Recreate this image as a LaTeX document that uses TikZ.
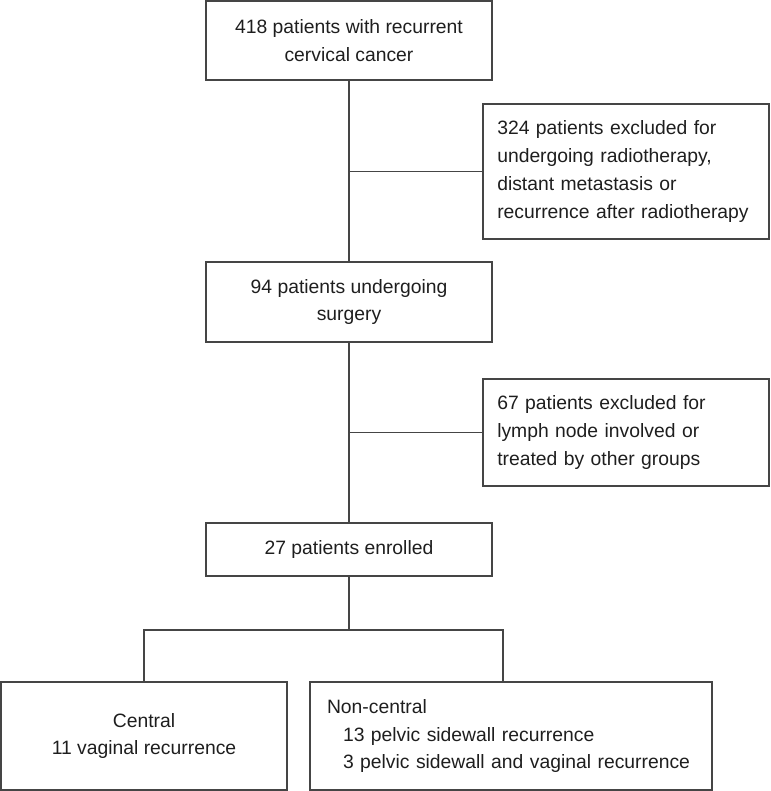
\documentclass[tikz,border=0pt]{standalone}
\usepackage{fontspec}
\setmainfont{Liberation Sans}
\usetikzlibrary{calc}
\definecolor{trait}{HTML}{454545}
\definecolor{texte}{HTML}{1E1E1E}
\tikzset{
    boite/.style={
        draw=trait, line width=0.65pt, rectangle,
        minimum width=5.72cm, inner sep=0pt,
        text=texte, align=center,
        font=\fontsize{11}{15.9}\selectfont
    },
    boitegauche/.style={
        boite, align=left, text width=5.15cm
    },
    lien/.style={draw=trait, line width=0.65pt}
}

\begin{document}
\begin{tikzpicture}
    \useasboundingbox (0,0) rectangle (15.4,-15.82);

    % Colonne principale
    \node[boite, minimum height=1.58cm] (patients) at (6.98,-0.81)
        {418 patients with recurrent\\cervical cancer};
    \node[boite, minimum height=1.6cm] (chirurgie) at (6.98,-6.04)
        {94 patients undergoing\\surgery};
    \node[boite, minimum height=1.06cm] (inclus) at (6.98,-10.99)
        {27 patients enrolled};

    % Exclusions
    \node[boitegauche, minimum height=2.7cm] (exclusA) at (12.52,-3.43)
        {324 patients excluded for\\undergoing radiotherapy,\\distant metastasis or\\recurrence after radiotherapy};
    \node[boitegauche, minimum height=2.14cm] (exclusB) at (12.52,-8.65)
        {67 patients excluded for\\lymph node involved or\\treated by other groups};

    % Groupes
    \node[boite, minimum height=2.16cm] (central) at (2.88,-14.72)
        {Central\\11 vaginal recurrence};
    \node[boite, align=left, minimum width=8.04cm, text width=7.36cm,
          minimum height=2.16cm] (noncentral) at (10.22,-14.72)
        {Non-central\\
         \hspace*{0.32cm}13 pelvic sidewall recurrence\\
         \hspace*{0.32cm}3 pelvic sidewall and vaginal recurrence};

    % Liaisons
    \draw[lien] (patients) -- (chirurgie);
    \draw[lien] (chirurgie) -- (inclus);
    \draw[lien] (exclusA.west) -- (exclusA.west -| patients);
    \draw[lien] (exclusB.west) -- (exclusB.west -| patients);

    \coordinate (split) at (6.98,-12.6);
    \coordinate (piedNC) at ($(noncentral.north)+(-0.16,0)$);
    \draw[lien] (inclus) -- (split);
    \draw[lien] (central.north) |- (split) -| (piedNC);

\end{tikzpicture}
\end{document}
